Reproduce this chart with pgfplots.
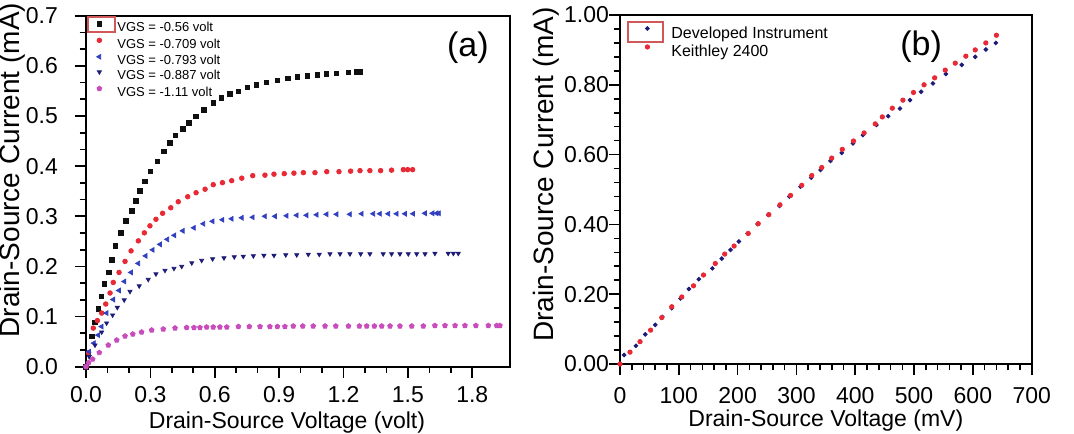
\documentclass[border=0pt]{standalone}
\usepackage{fontspec}
\setmainfont{Liberation Sans}
\usepackage{pgfplots}
\pgfplotsset{compat=1.18}
\usetikzlibrary{plotmarks}

\definecolor{cBlack}{HTML}{101010}
\definecolor{cRed}{HTML}{E82A36}
\definecolor{cBlue}{HTML}{3040C0}
\definecolor{cNavy}{HTML}{1C1C78}
\definecolor{cMag}{HTML}{C84CBC}
\definecolor{cBoxRed}{HTML}{D05858}

\pgfplotsset{
  ivpanel/.style={
    scale only axis,
    clip=false,
    axis line style={line width=0.9pt},
    tick align=outside,
    xtick pos=left, ytick pos=left,
    major tick length=5.5pt, minor tick length=3.2pt,
    tick style={line width=0.8pt, black},
    tick label style={font=\fontsize{11.5}{11.5}\selectfont},
    /pgf/number format/assume math mode=true,
    legend cell align=left,
  },
}

\begin{document}
\begin{tikzpicture}
\path[use as bounding box] (-43pt,-33.15pt) rectangle (494pt,183.35pt);

% ---------------- panel (a) ----------------
\begin{axis}[ivpanel,
  name=A, at={(0pt,0pt)}, anchor=south west,
  width=212pt, height=175.5pt,
  xmin=0, xmax=1.976, ymin=0, ymax=0.7,
  xtick={0,0.3,0.6,0.9,1.2,1.5,1.8},
  ytick={0,0.1,0.2,0.3,0.4,0.5,0.6,0.7},
  minor x tick num=2, minor y tick num=2,
  xticklabel style={yshift=-1pt, /pgf/number format/.cd, fixed, fixed zerofill, precision=1},
  yticklabel style={xshift=-5pt, /pgf/number format/.cd, fixed, fixed zerofill, precision=1},
  xlabel={Drain-Source Voltage (volt)},
  ylabel={Drain-Source Current (mA)},
  xlabel style={font=\fontsize{11.5}{12}\selectfont, at={(axis description cs:0.474,-0.158)}, anchor=center},
  ylabel style={font=\fontsize{14}{14}\selectfont, at={(axis description cs:-0.1745,0.56)}, anchor=center},
  legend image code/.code={%
    \draw[#1] plot coordinates {(5pt,2.3pt)};
    \path[draw=none] (0pt,0pt) -- (14pt,0pt);},
  legend style={at={(axis description cs:0.007,0.984)}, anchor=north west,
    draw=none, fill=none, inner sep=0pt, row sep=2.25pt, column sep=0pt,
    font=\fontsize{6.5}{6.5}\selectfont,
    nodes={inner sep=0pt, text height=4.1pt, text depth=0.9pt}},
]
\addplot[only marks, mark=square*, mark size=1.1pt, color=cBlack] coordinates {
(0.0,0.0)(0.011,0.027)(0.027,0.060)(0.042,0.088)(0.057,0.115)(0.073,0.140)(0.085,0.165)
(0.107,0.188)(0.121,0.213)(0.138,0.241)(0.163,0.267)(0.186,0.291)(0.213,0.311)(0.232,0.331)
(0.252,0.351)(0.275,0.369)(0.301,0.390)(0.332,0.409)(0.363,0.429)(0.391,0.446)(0.418,0.461)
(0.451,0.474)(0.480,0.486)(0.513,0.499)(0.550,0.512)(0.593,0.526)(0.632,0.536)(0.671,0.544)
(0.710,0.549)(0.752,0.557)(0.795,0.562)(0.842,0.567)(0.892,0.571)(0.940,0.575)(0.985,0.578)
(1.031,0.580)(1.078,0.582)(1.121,0.584)(1.168,0.585)(1.222,0.587)(1.261,0.588)(1.277,0.588)};
\addlegendentry{VGS = -0.56 volt}
\addplot[only marks, mark=*, mark size=1.15pt, color=cRed] coordinates {
(0,0)(0.012,0.028)(0.034,0.077)(0.053,0.092)(0.073,0.107)(0.092,0.125)(0.112,0.147)
(0.127,0.168)(0.154,0.188)(0.182,0.210)(0.210,0.231)(0.244,0.251)(0.272,0.267)(0.298,0.281)
(0.326,0.294)(0.357,0.306)(0.395,0.317)(0.430,0.329)(0.474,0.339)(0.513,0.347)(0.555,0.354)
(0.593,0.363)(0.636,0.367)(0.679,0.371)(0.726,0.376)(0.777,0.381)(0.834,0.382)(0.876,0.384)
(0.924,0.385)(0.969,0.386)(1.013,0.387)(1.067,0.387)(1.122,0.389)(1.179,0.389)(1.233,0.390)
(1.277,0.391)(1.323,0.391)(1.373,0.391)(1.424,0.392)(1.479,0.393)(1.499,0.393)(1.522,0.393)};
\addlegendentry{VGS = -0.709 volt}
\addplot[only marks, mark=triangle*, mark options={rotate=90}, mark size=1.35pt, color=cBlue] coordinates {
(0,0)(0.015,0.030)(0.037,0.047)(0.057,0.063)(0.073,0.080)(0.096,0.107)(0.127,0.134)
(0.154,0.152)(0.179,0.170)(0.210,0.188)(0.244,0.206)(0.278,0.221)(0.311,0.233)(0.345,0.244)
(0.379,0.254)(0.412,0.262)(0.451,0.271)(0.503,0.277)(0.547,0.285)(0.590,0.290)(0.636,0.293)
(0.679,0.295)(0.726,0.297)(0.777,0.298)(0.834,0.300)(0.881,0.300)(0.935,0.301)(0.982,0.302)
(1.028,0.302)(1.075,0.303)(1.121,0.304)(1.168,0.304)(1.230,0.304)(1.285,0.305)(1.339,0.305)
(1.370,0.305)(1.409,0.305)(1.448,0.305)(1.487,0.305)(1.525,0.305)(1.580,0.306)(1.615,0.306)
(1.634,0.306)(1.645,0.306)};
\addlegendentry{VGS = -0.793 volt}
\addplot[only marks, mark=triangle*, mark options={rotate=180}, mark size=1.15pt, color=cNavy] coordinates {
(0,0)(0.015,0.020)(0.042,0.043)(0.073,0.069)(0.096,0.087)(0.124,0.103)(0.146,0.118)
(0.178,0.133)(0.205,0.150)(0.248,0.161)(0.290,0.174)(0.326,0.185)(0.368,0.192)(0.410,0.196)
(0.446,0.200)(0.493,0.207)(0.539,0.212)(0.590,0.215)(0.643,0.217)(0.691,0.219)(0.733,0.220)
(0.780,0.221)(0.829,0.222)(0.876,0.222)(0.931,0.223)(0.982,0.223)(1.036,0.224)(1.087,0.224)
(1.137,0.225)(1.184,0.225)(1.230,0.225)(1.280,0.225)(1.323,0.225)(1.385,0.225)(1.424,0.225)
(1.463,0.225)(1.502,0.225)(1.541,0.225)(1.580,0.225)(1.626,0.226)(1.688,0.226)(1.712,0.226)
(1.735,0.226)};
\addlegendentry{VGS = -0.887 volt}
\addplot[only marks, mark=pentagon*, mark size=1.25pt, color=cMag] coordinates {
(0,0)(0.012,0.008)(0.031,0.015)(0.062,0.028)(0.104,0.043)(0.143,0.053)(0.182,0.061)
(0.218,0.065)(0.259,0.069)(0.306,0.073)(0.360,0.075)(0.415,0.077)(0.469,0.078)(0.503,0.078)
(0.531,0.078)(0.562,0.079)(0.593,0.079)(0.624,0.079)(0.656,0.079)(0.710,0.080)(0.761,0.080)
(0.811,0.080)(0.857,0.080)(0.892,0.080)(0.927,0.080)(0.966,0.081)(1.010,0.081)(1.059,0.081)
(1.114,0.081)(1.164,0.081)(1.223,0.081)(1.274,0.081)(1.308,0.081)(1.344,0.081)(1.378,0.081)
(1.417,0.081)(1.463,0.081)(1.518,0.081)(1.572,0.081)(1.626,0.082)(1.673,0.082)(1.720,0.082)
(1.766,0.082)(1.817,0.082)(1.875,0.082)(1.914,0.082)(1.929,0.082)};
\addlegendentry{VGS = -1.11 volt}
\draw[cBoxRed, line width=0.6pt] (rel axis cs:0.0047,0.9963) rectangle (rel axis cs:0.0684,0.9535);
\node[font=\fontsize{17}{17}\selectfont] at (axis cs:1.78,0.637) {(a)};
\end{axis}

% ---------------- panel (b) ----------------
\begin{axis}[ivpanel,
  name=B, at={(267pt,1.35pt)}, anchor=south west,
  width=205.85pt, height=174.5pt,
  xmin=0, xmax=700, ymin=0, ymax=1.0,
  xtick={0,100,200,300,400,500,600,700},
  ytick={0,0.2,0.4,0.6,0.8,1.0},
  minor x tick num=4, minor y tick num=4,
  xticklabel style={yshift=-2.5pt},
  yticklabel style={xshift=3.5pt, /pgf/number format/.cd, fixed, fixed zerofill, precision=2},
  xlabel={Drain-Source Voltage (mV)},
  ylabel={Drain-Source Current (mA)},
  xlabel style={font=\fontsize{11.5}{12}\selectfont, at={(axis description cs:0.500,-0.163)}, anchor=center},
  ylabel style={font=\fontsize{14}{14}\selectfont, at={(axis description cs:-0.18,0.543)}, anchor=center},
  legend image code/.code={%
    \draw[#1] plot coordinates {(5pt,2.9pt)};
    \path[draw=none] (0pt,0pt) -- (17pt,0pt);},
  legend style={at={(axis description cs:0.0413,0.968)}, anchor=north west,
    draw=none, fill=none, inner sep=0pt, row sep=1.5pt, column sep=0pt,
    font=\fontsize{8}{8}\selectfont,
    nodes={inner sep=0pt, text height=5.8pt, text depth=1.7pt}},
]
\addplot[only marks, mark=*, mark size=0.95pt, color=cNavy] coordinates {
(7,0.026)(27,0.052)(43,0.085)(60,0.112)(72,0.135)(88,0.160)(103,0.188)(117,0.215)
(134,0.243)(157,0.274)(173,0.302)(188,0.327)(202,0.351)(217,0.374)(234,0.401)(252,0.427)
(271,0.453)(288,0.480)(307,0.508)(325,0.534)(341,0.556)(358,0.582)(377,0.605)(396,0.632)
(413,0.656)(436,0.685)(456,0.710)(476,0.732)(493,0.756)(512,0.780)(532,0.804)(554,0.831)
(581,0.857)(604,0.880)(622,0.901)(639,0.920)};
\addlegendentry{Developed Instrument}
\addplot[only marks, mark=*, mark size=1.1pt, color=cRed] coordinates {
(0,0)(17,0.034)(34,0.064)(52,0.097)(71,0.133)(88,0.164)(105,0.192)(125,0.224)
(142,0.255)(162,0.288)(178,0.315)(194,0.338)(218,0.374)(235,0.402)(253,0.428)(272,0.456)
(290,0.483)(309,0.512)(326,0.540)(343,0.563)(360,0.590)(378,0.615)(397,0.639)(415,0.662)
(434,0.688)(446,0.708)(463,0.733)(481,0.756)(499,0.778)(517,0.800)(535,0.820)(553,0.842)
(570,0.862)(588,0.882)(604,0.900)(622,0.920)(640,0.942)};
\addlegendentry{Keithley 2400}
\draw[cBoxRed, line width=0.6pt] (rel axis cs:0.0194,0.980) rectangle (rel axis cs:0.1044,0.9226);
\node[font=\fontsize{17}{17}\selectfont] at (axis cs:512,0.908) {(b)};
\end{axis}
\end{tikzpicture}
\end{document}
